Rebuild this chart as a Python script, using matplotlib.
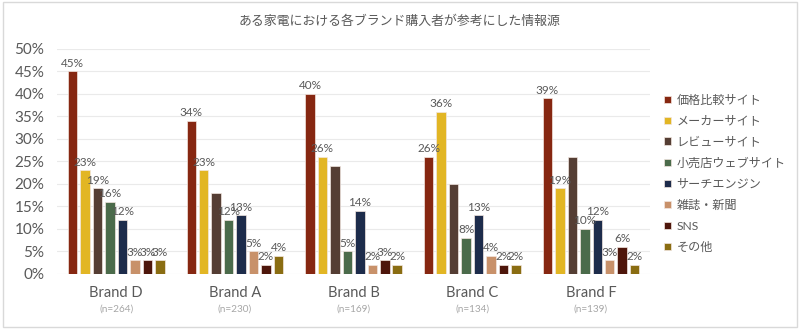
import numpy as np
import matplotlib.pyplot as plt
from matplotlib.patches import Rectangle
from matplotlib.transforms import blended_transform_factory

plt.rcParams['font.family'] = ['Lato', 'Noto Sans CJK JP', 'DejaVu Sans']

title = 'ある家電における各ブランド購入者が参考にした情報源'
brands = ['Brand D', 'Brand A', 'Brand B', 'Brand C', 'Brand F']
sample_sizes = ['(n=264)', '(n=230)', '(n=169)', '(n=134)', '(n=139)']
sources = ['価格比較サイト', 'メーカーサイト', 'レビューサイト', '小売店ウェブサイト',
           'サーチエンジン', '雑誌・新聞', 'SNS', 'その他']
colors = ['#862711', '#E2B624', '#553E34', '#4B6B4B', '#1D2C4B', '#C8916A', '#4E160B', '#8A6D12']

# share of buyers per source (rows) and brand (columns)
price_comparison = [0.45, 0.34, 0.40, 0.26, 0.39]
maker_site = [0.23, 0.23, 0.26, 0.36, 0.19]
review_site = [0.19, 0.18, 0.24, 0.20, 0.26]
retailer_site = [0.16, 0.12, 0.05, 0.08, 0.10]
search_engine = [0.12, 0.13, 0.14, 0.13, 0.12]
magazine = [0.03, 0.05, 0.02, 0.04, 0.03]
sns = [0.03, 0.02, 0.03, 0.02, 0.06]
other = [0.03, 0.04, 0.02, 0.02, 0.02]
series = [price_comparison, maker_site, review_site, retailer_site,
          search_engine, magazine, sns, other]

# review-site labels are only shown for the first brand
review_label_shown = [True, False, False, False, False]

fig = plt.figure(figsize=(8, 3.3), dpi=100)
fig.patches.append(Rectangle((0.004, 0.008), 0.992, 0.985, transform=fig.transFigure,
                             fill=False, edgecolor='#D9D9D9', linewidth=1.0))
ax = fig.add_axes([0.071, 0.17, 0.742, 0.682])

x = np.arange(len(brands))
pitch = 0.105
width = 0.08
for i, (name, vals, col) in enumerate(zip(sources, series, colors)):
    pos = x + (i - 3.5) * pitch
    ax.bar(pos, vals, width, color=col, edgecolor='#F2E6E0', linewidth=0.5, label=name, zorder=3)
    for j, (p, v) in enumerate(zip(pos, vals)):
        if i == 2 and not review_label_shown[j]:
            continue
        ax.text(p, v + 0.006, f'{round(v * 100)}%', ha='center', va='bottom',
                fontsize=8.5, color='#595959', zorder=4)

ax.set_ylim(0, 0.5)
ax.set_xlim(-0.5, len(brands) - 0.5)
ticks = np.arange(0, 0.51, 0.05)
ax.set_yticks(ticks)
ax.set_yticklabels([f'{int(round(t * 100))}%' for t in ticks], fontsize=11, color='#595959')
ax.set_xticks([])
ax.tick_params(axis='y', length=0, pad=9)
ax.grid(axis='y', color='#EAEAEA', linewidth=0.8, zorder=0)
for s in ax.spines.values():
    s.set_visible(False)

trans = blended_transform_factory(ax.transData, fig.transFigure)
for xi, b, n in zip(x, brands, sample_sizes):
    ax.text(xi, 1 - 293 / 330, b, transform=trans, ha='center', va='center',
            fontsize=10.5, color='#595959')
    ax.text(xi, 1 - 309 / 330, n, transform=trans, ha='center', va='center',
            fontsize=7.2, color='#A6A6A6')

fig.text(0.5, 1 - 21 / 330, title, ha='center', va='center', fontsize=9.3, color='#595959')

leg = ax.legend(loc='upper left', bbox_to_anchor=(1.005, 0.845), frameon=False,
                fontsize=8.7, handlelength=0.6, handleheight=0.6, handletextpad=0.4,
                labelspacing=0.82, labelcolor='#595959')

fig.savefig('out.png', dpi=100)
